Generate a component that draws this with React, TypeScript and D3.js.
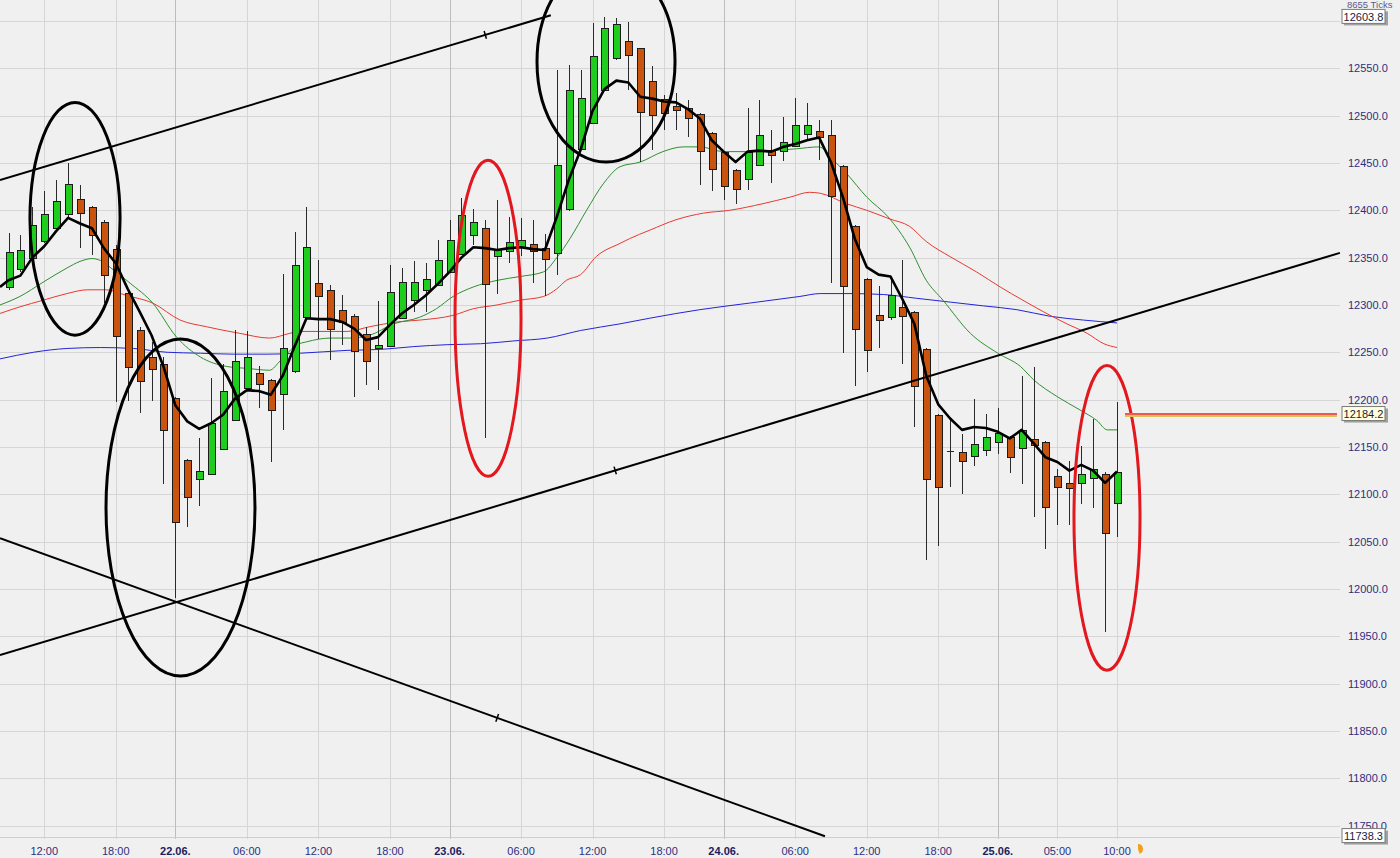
import React from 'react';
import * as d3 from 'd3';

const W = 1400;
const H = 858;
const PLOT_R = 1340;
const PLOT_B = 837;

// hourly candles, index 0..93
const opens = [12319,12338,12349,12367,12382,12396,12412,12403,12388,12359,12313,12273,12245,12238,12202,12136,12117,12121,12148,12179,12212,12228,12221,12206,12230,12287,12323,12316,12295,12288,12269,12255,12257,12286,12305,12315,12321,12335,12354,12374,12381,12352,12356,12362,12364,12360,12355,12401,12465,12492,12528,12561,12579,12571,12537,12518,12510,12508,12502,12482,12462,12443,12434,12448,12464,12462,12468,12480,12484,12480,12447,12383,12327,12289,12287,12298,12293,12253,12184,12146,12145,12140,12147,12155,12160,12149,12158,12155,12119,12112,12111,12117,12121,12091];
const highs = [12376,12374,12404,12420,12432,12450,12427,12405,12390,12363,12314,12277,12261,12245,12203,12137,12159,12223,12238,12273,12272,12236,12222,12333,12377,12404,12347,12321,12310,12290,12277,12304,12342,12339,12346,12344,12369,12390,12413,12401,12390,12411,12393,12392,12390,12375,12548,12554,12548,12598,12604,12603,12599,12572,12552,12522,12524,12517,12503,12483,12463,12444,12508,12517,12485,12499,12519,12513,12495,12495,12448,12384,12328,12320,12330,12348,12294,12254,12185,12178,12164,12201,12185,12191,12162,12225,12234,12156,12127,12135,12151,12180,12123,12197];
const lows = [12316,12335,12347,12365,12381,12393,12360,12353,12302,12197,12198,12186,12199,12111,11990,12065,12088,12120,12147,12178,12210,12191,12134,12168,12228,12286,12264,12242,12258,12203,12215,12210,12256,12285,12293,12293,12320,12334,12353,12363,12159,12312,12344,12352,12323,12309,12332,12399,12464,12491,12527,12559,12527,12451,12464,12485,12485,12477,12427,12420,12411,12407,12421,12447,12429,12452,12467,12474,12453,12323,12249,12214,12229,12255,12284,12238,12171,12031,12045,12108,12100,12130,12140,12143,12122,12111,12076,12042,12067,12068,12090,12085,11954,12055];
const closes = [12356,12358,12384,12396,12410,12428,12397,12373,12332,12267,12235,12219,12232,12168,12071,12097,12125,12175,12209,12241,12245,12216,12189,12255,12342,12361,12309,12275,12282,12251,12240,12258,12314,12324,12324,12327,12347,12369,12395,12388,12322,12359,12366,12369,12357,12348,12448,12527,12519,12563,12593,12597,12564,12503,12501,12503,12506,12497,12463,12444,12426,12423,12462,12480,12459,12472,12490,12490,12478,12416,12320,12274,12252,12284,12310,12288,12215,12116,12108,12146,12135,12153,12161,12165,12139,12168,12152,12086,12107,12107,12121,12127,12059,12124];

// time axis
const tickIdx = [3, 9, 14, 20, 26, 32, 37, 43, 49, 55, 60, 66, 72, 78, 83, 88, 93];
const tickLabels = ['12:00', '18:00', '22.06.', '06:00', '12:00', '18:00', '23.06.', '06:00', '12:00', '18:00', '24.06.', '06:00', '12:00', '18:00', '25.06.', '05:00', '10:00'];
const priceTicks = d3.range(11750, 12601, 50);

// moving averages [index, value]
const maFast: [number, number][] = [[-0.71,12319],[0,12326],[1,12331],[2,12350],[3,12362],[4,12378],[5,12392],[6,12386],[7,12381],[8,12360],[9,12344],[10,12317],[11,12293],[12,12268],[13,12235],[14,12194],[15,12177],[16,12169],[17,12175],[18,12184],[19,12201],[20,12210],[21,12209],[22,12205],[23,12225],[24,12256],[25,12286],[26,12285],[27,12285],[28,12282],[29,12275],[30,12263],[31,12266],[32,12279],[33,12291],[34,12300],[35,12310],[36,12322],[37,12335],[38,12350],[39,12361],[40,12360],[41,12358],[42,12360],[43,12361],[44,12359],[45,12358],[46,12393],[47,12432],[48,12464],[49,12505],[50,12528],[51,12537],[52,12535],[53,12520],[54,12518],[55,12515],[56,12514],[57,12507],[58,12497],[59,12474],[60,12462],[61,12451],[62,12462],[63,12463],[64,12462],[65,12467],[66,12470],[67,12474],[68,12477],[69,12451],[70,12414],[71,12370],[72,12340],[73,12332],[74,12330],[75,12306],[76,12280],[77,12225],[78,12195],[79,12180],[80,12168],[81,12171],[82,12170],[83,12166],[84,12159],[85,12168],[86,12154],[87,12139],[88,12134],[89,12125],[90,12131],[91,12125],[92,12112],[93,12124]];
const maGreen: [number, number][] = [[-0.71,12300],[0.96,12309],[2.9,12324],[4.9,12339],[6,12346],[7,12349],[7.7,12347],[8.8,12337],[10.2,12323],[12.1,12302],[14.1,12266],[16.1,12245],[18.3,12235],[20,12233],[21.9,12231],[22.8,12241],[24.2,12258],[25,12261],[27,12265],[28.6,12265],[30.3,12268],[32.3,12280],[34.5,12287],[35.9,12296],[37.3,12309],[39,12319],[41,12326],[42.9,12330],[44.9,12335],[46,12350],[47.1,12370],[48.5,12400],[49.9,12428],[51.3,12446],[53,12451],[54.9,12462],[56.6,12467],[58,12467],[60,12462],[62,12462],[63.9,12463],[66.1,12465],[68,12467],[69.2,12453],[70.3,12439],[72,12414],[73.8,12393],[75.6,12361],[77,12326],[78.4,12305],[80.7,12270],[83,12249],[84.9,12235],[86,12221],[88,12203],[89.9,12189],[91.3,12178],[92.2,12168],[93,12168]];
const maRed: [number, number][] = [[-0.71,12291],[0.96,12298],[2.9,12305],[4.9,12312],[6.6,12316],[8.2,12316],[9.9,12310],[12.1,12302],[14.4,12284],[16.6,12277],[19.4,12270],[21.9,12265],[23.6,12270],[24.4,12272],[27,12272],[28.4,12272],[30.3,12277],[32.6,12282],[34.5,12284],[37.3,12289],[39,12296],[41,12300],[42.9,12305],[44.9,12309],[46,12317],[46.8,12326],[48,12332],[49.3,12351],[51.3,12365],[52.1,12370],[53.8,12379],[56,12390],[58.3,12397],[60.5,12400],[63.3,12407],[65.6,12414],[67.2,12419],[68.1,12418],[70.3,12407],[72,12400],[73.9,12391],[75.6,12383],[77,12367],[79,12351],[81.2,12335],[83.2,12319],[85.1,12305],[86.8,12293],[88.8,12280],[90.5,12270],[91.9,12259],[93,12255]];
const maBlue: [number, number][] = [[-0.71,12243],[2.1,12250],[4.9,12254],[7.7,12255],[10.5,12254],[13.3,12250],[16.1,12249],[18.9,12248],[21.7,12248],[24.5,12249],[28.4,12252],[31.2,12253],[34,12256],[36.8,12258],[39.6,12259],[42.4,12262],[45.2,12265],[48,12273],[51.3,12280],[53.8,12286],[58,12295],[62.2,12302],[66.4,12309],[68.1,12312],[70.6,12312],[73.4,12311],[76.2,12307],[79,12303],[81.8,12299],[84.6,12295],[87.4,12288],[90.2,12284],[93,12281]];

// trendlines: [startIdx, startVal, endIdx, endVal, tickIdx]
const trendLines = [
  [-0.713, 12432, 45.5, 12606, 40.0],
  [-0.713, 11930, 111.7, 12355, 50.9],
  [-0.713, 12053.5, 68.5, 11738.6, 41.0],
];
// ellipses: [centerIdx, centerVal, radiusIdx, radiusVal, color]
const ellipses: [number, number, number, number, string][] = [
  [5.58, 12391, 3.78, 123, '#000000'],
  [14.43, 12086, 6.25, 178, '#000000'],
  [50.13, 12557, 5.79, 106, '#000000'],
  [40.23, 12286, 2.77, 167, '#e3171e'],
  [92.16, 12075, 2.77, 161, '#e3171e'],
];
const levelPrice = 12184.2;
const levelStartIdx = 93.67;
const viewMax = 12603.8;
const viewMin = 11738.3;
const tickCountLabel = '8655 Ticks';

const FONT = '"Liberation Sans", Arial, sans-serif';

export default function App() {
  const x = d3.scaleLinear().domain([0, 93]).range([8.5, 1117]);
  const y = d3.scaleLinear().domain([11750, 12600]).range([825.5, 21]);
  const lineGen = d3.line<[number, number]>().x(d => x(d[0])).y(d => y(d[1]));
  const smoothGen = d3.line<[number, number]>().x(d => x(d[0])).y(d => y(d[1])).curve(d3.curveMonotoneX);

  const fmt = d3.format('.1f');

  const boxLabel = (val: number, fill: string) => {
    const cy = y(val);
    return (
      <g key={'box' + val}>
        <rect x={1344} y={cy - 6} width={44} height={14} fill="#a0a0a0" />
        <rect x={1342} y={cy - 8} width={43} height={14} fill={fill} stroke="#7a7a7a" strokeWidth={1} />
        <text x={1363.5} y={cy + 3.5} textAnchor="middle" fontSize={11} fill="#1a1a40" fontFamily={FONT}>{fmt(val)}</text>
      </g>
    );
  };

  return (
    <div style={{ position: 'absolute', left: 0, top: 0 }}>
      <svg width={W} height={H} style={{ display: 'block', background: '#f0f0f0' }}>
        <rect x={0} y={0} width={W} height={H} fill="#f0f0f0" />
        {/* horizontal grid */}
        <g shapeRendering="crispEdges">
          {priceTicks.map(v => (
            <line key={'h' + v} x1={0} x2={PLOT_R} y1={Math.round(y(v)) + 0.5} y2={Math.round(y(v)) + 0.5} stroke="#d6d6d6" />
          ))}
          {tickIdx.map((t, i) => (
            <line key={'v' + i} x1={Math.round(x(t)) + 0.5} x2={Math.round(x(t)) + 0.5} y1={0} y2={PLOT_B + 2}
              stroke={tickLabels[i].includes('.') ? '#bdbdbd' : '#d6d6d6'} />
          ))}
          <line x1={0} x2={PLOT_R} y1={PLOT_B + 0.5} y2={PLOT_B + 0.5} stroke="#cfcfcf" />
        </g>

        {/* moving averages (thin) */}
        <path d={smoothGen(maBlue) || ''} fill="none" stroke="#2424d8" strokeWidth={1} />
        <path d={smoothGen(maRed) || ''} fill="none" stroke="#e83a30" strokeWidth={1} />
        <path d={smoothGen(maGreen) || ''} fill="none" stroke="#2f8f2f" strokeWidth={1} />

        {/* candles */}
        <g>
          {opens.map((o, i) => {
            const cx = Math.round(x(i));
            const c = closes[i];
            const up = c > o;
            const top = y(Math.max(o, c));
            const bot = y(Math.min(o, c));
            return (
              <g key={'c' + i}>
                <line x1={cx + 0.5} x2={cx + 0.5} y1={y(highs[i])} y2={y(lows[i])} stroke="#2a2a2a" strokeWidth={1} shapeRendering="crispEdges" />
                {Math.abs(bot - top) < 1.5 ? (
                  <line x1={cx - 3} x2={cx + 4} y1={Math.round(top) + 0.5} y2={Math.round(top) + 0.5} stroke="#2a2a2a" shapeRendering="crispEdges" />
                ) : (
                  <rect x={cx - 3} y={Math.round(top) + 0.5} width={7} height={Math.max(1, Math.round(bot - top))}
                    fill={up ? '#1fcd1f' : '#c8540f'} stroke="#1c1c1c" strokeWidth={1} shapeRendering="crispEdges" />
                )}
              </g>
            );
          })}
        </g>

        {/* fast MA */}
        <path d={lineGen(maFast) || ''} fill="none" stroke="#000" strokeWidth={2.6} strokeLinejoin="round" />

        {/* trendlines */}
        {trendLines.map((t, i) => {
          const x1 = x(t[0]), y1 = y(t[1]), x2 = x(t[2]), y2 = y(t[3]);
          const tx = x(t[4]);
          const ty = y1 + (y2 - y1) * (tx - x1) / (x2 - x1);
          const len = Math.hypot(x2 - x1, y2 - y1);
          const nx = -(y2 - y1) / len, ny = (x2 - x1) / len;
          return (
            <g key={'t' + i}>
              <line x1={x1} y1={y1} x2={x2} y2={y2} stroke="#000" strokeWidth={2} />
              <line x1={tx - nx * 4} y1={ty - ny * 4} x2={tx + nx * 4} y2={ty + ny * 4} stroke="#000" strokeWidth={1.5} />
            </g>
          );
        })}

        {/* ellipses */}
        {ellipses.map((e, i) => {
          const cx = x(e[0]);
          const cy = y(e[1]);
          const rx = x(e[0] + e[2]) - cx;
          const ry = cy - y(e[1] + e[3]);
          return <ellipse key={'e' + i} cx={cx} cy={cy} rx={rx} ry={ry} fill="none" stroke={e[4]} strokeWidth={3} />;
        })}

        {/* horizontal level */}
        <line x1={x(levelStartIdx)} x2={PLOT_R - 3} y1={y(levelPrice) + 1} y2={y(levelPrice) + 1} stroke="#d9c35a" strokeWidth={3} />
        <line x1={x(levelStartIdx)} x2={PLOT_R - 3} y1={y(levelPrice) - 0.5} y2={y(levelPrice) - 0.5} stroke="#f0584a" strokeWidth={2} />

        {/* right axis labels */}
        {priceTicks.filter(v => v !== 12600).map(v => (
          <text key={'pl' + v} x={1348} y={y(v) + 4} fontSize={11} fill="#2e2e7e" fontFamily={FONT}>{fmt(v)}</text>
        ))}
        <text x={1347} y={8} fontSize={9.5} fill="#5a5a8a" fontFamily={FONT}>{tickCountLabel}</text>
        {boxLabel(viewMax, '#ffffff')}
        {boxLabel(levelPrice, '#ffffdc')}
        {boxLabel(viewMin, '#ffffff')}

        {/* time axis labels */}
        {tickIdx.map((t, i) => {
          const isDay = tickLabels[i].includes('.');
          return (
            <text key={'tl' + i} x={x(t)} y={855} textAnchor="middle" fontSize={11}
              fontWeight={isDay ? 'bold' : 'normal'} fill={isDay ? '#1b1b5e' : '#2e2e7e'} fontFamily={FONT}>
              {tickLabels[i]}
            </text>
          );
        })}
        {/* small indicator icon */}
        <path d={d3.arc()({ innerRadius: 0, outerRadius: 5, startAngle: 0, endAngle: Math.PI * 0.9 }) || ''}
          transform={`translate(${x(93) + 21},${849})`} fill="#f0a020" />
      </svg>
    </div>
  );
}
